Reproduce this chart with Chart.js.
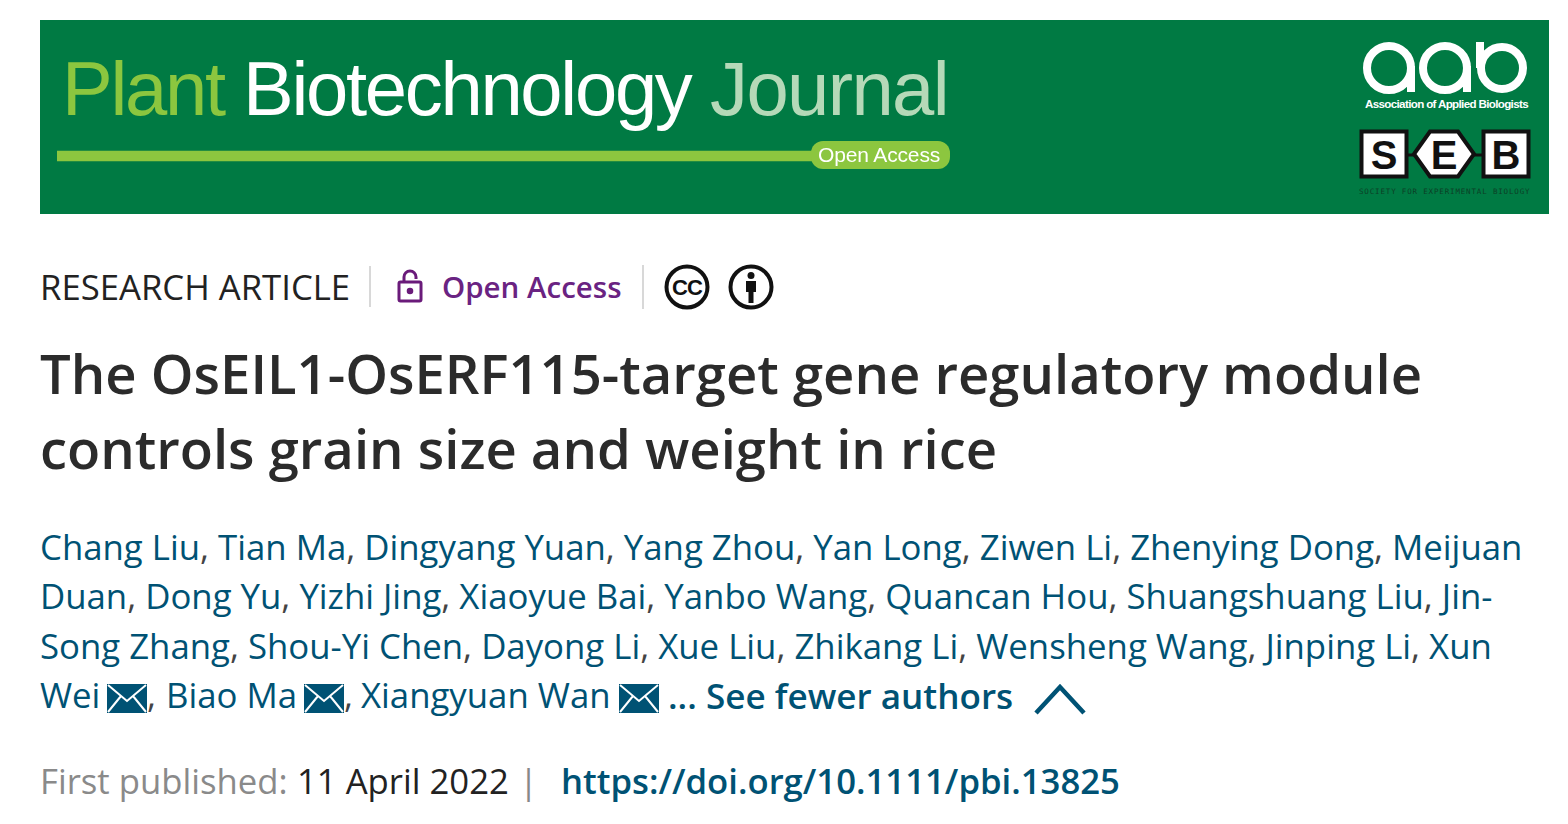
<!DOCTYPE html>
<html>
<head>
<meta charset="utf-8">
<script src="https://cdn.jsdelivr.net/npm/chart.js@4"></script>
<style>
html, body { margin: 0; padding: 0; background: #fff; }
body { width: 1568px; height: 824px; position: relative; overflow: hidden; font-family: "Open Sans", sans-serif; }
.t { position: absolute; white-space: nowrap; line-height: 1; }
.abs { position: absolute; }
#banner { position: absolute; left: 40px; top: 20px; width: 1509px; height: 194px; background: #007a43; }
.logo { font-family: "Liberation Sans", sans-serif; font-size: 76px; letter-spacing: -2.3px; top: 51px; }
.author { font-size: 34.77px; color: #005274; }
.author i { font-style: normal; color: #444; }
.sep { position: absolute; width: 2px; background: #d8d8d8; }
</style>
</head>
<body>
<div id="banner"></div>
<div class="t logo" style="left:62px;color:#8cc63f">Plant</div>
<div class="t logo" style="left:243px;color:#fff">Biotechnology</div>
<div class="t logo" style="left:710px;color:#b5d9b8;letter-spacing:-1.6px">Journal</div>

<div class="abs" style="left:57px;top:146px;width:756px;height:20px"><canvas id="ruleChart"></canvas></div>
<div class="abs" style="left:811px;top:141px;width:139px;height:28px;background:#8cc63f;border-radius:12px"></div>
<div class="t" style="left:818px;top:144px;font:21px/22px 'Liberation Sans',sans-serif;color:#fff;letter-spacing:-.15px">Open Access</div>

<!-- aab logo -->
<svg class="abs" style="left:1360px;top:36px" width="170" height="72" viewBox="0 0 170 72">
  <g fill="none" stroke="#fff" stroke-width="8">
    <circle cx="29" cy="32" r="22"/><path d="M51 30V56"/>
    <circle cx="85" cy="32" r="22"/><path d="M107 30V56"/>
    <circle cx="142" cy="32" r="21"/><path d="M120 6V32"/>
  </g>
</svg>
<div class="t" style="left:1365px;top:97px;font:bold 11.6px/14px 'Liberation Sans',sans-serif;color:#fff;letter-spacing:-.65px">Association of Applied Biologists</div>
<!-- SEB logo -->
<svg class="abs" style="left:1358px;top:128px" width="176" height="54" viewBox="0 0 176 54">
  <path d="M44 27H66M110 27H132" stroke="#111" stroke-width="3"/>
  <rect x="3.500" y="3.500" width="45" height="45" fill="#fff" stroke="#111" stroke-width="4"/>
  <path d="M72 3.500H100L116 26L100 48.500H72L56 26Z" fill="#fff" stroke="#111" stroke-width="4"/>
  <rect x="125.500" y="3.500" width="45" height="45" fill="#fff" stroke="#111" stroke-width="4"/>
  <g font-family="Liberation Sans" font-weight="bold" font-size="40" text-anchor="middle" fill="#111">
    <text x="26" y="41">S</text><text x="86" y="41">E</text><text x="148" y="41">B</text>
  </g>
</svg>
<div class="t" style="left:1359px;top:187px;font:7.500px/10px 'DejaVu Sans Mono',monospace;color:#0c3f26;letter-spacing:.84px">SOCIETY FOR EXPERIMENTAL BIOLOGY</div>

<div class="t" style="left:40px;top:270px;font-size:34.7px;color:#222">RESEARCH ARTICLE</div>
<div class="sep" style="left:369px;top:266px;height:41px"></div>
<svg class="abs" style="left:396px;top:269px" width="28" height="34" viewBox="0 0 28 34" fill="none" stroke="#6a1b7a" stroke-width="3">
  <rect x="3" y="13" width="22" height="19" rx="1.500"/><path d="M8 13V8a6 6 0 0 1 12 0v2"/><circle cx="14" cy="22" r="1.800" fill="#6a1b7a"/>
</svg>
<div class="t" style="left:442px;top:272px;font-size:29.500px;font-weight:600;color:#6a2382">Open Access</div>
<div class="sep" style="left:642px;top:265px;height:44px"></div>
<svg class="abs" style="left:663px;top:264px" width="48" height="46" viewBox="0 0 48 46">
  <circle cx="24" cy="23" r="20.500" fill="#fff" stroke="#111" stroke-width="4"/>
  <text x="24" y="31" text-anchor="middle" font-family="Liberation Sans" font-weight="bold" font-size="22" fill="#111" letter-spacing="-1">CC</text>
</svg>
<svg class="abs" style="left:727px;top:264px" width="48" height="46" viewBox="0 0 48 46">
  <circle cx="24" cy="23" r="20.500" fill="#fff" stroke="#111" stroke-width="4"/>
  <circle cx="24" cy="11.500" r="3.500" fill="#111"/><path d="M19 17h10v11h-2.500v11h-5V28H19z" fill="#111"/>
</svg>

<div id="title"></div>
<div id="authors"></div>

<div class="t" style="left:668px;top:678px;font-size:35.1px;font-weight:600;color:#005274">... See fewer authors</div>
<svg class="abs" style="left:1032px;top:682px" width="56" height="34" viewBox="0 0 56 34" fill="none" stroke="#005274" stroke-width="4.500"><path d="M4 31L28 5L52 31"/></svg>

<div class="t" style="left:40px;top:764px;font-size:34.7px;color:#8a8a8a">First published:</div>
<div class="t" style="left:297px;top:764px;font-size:34.7px;color:#222">11 April 2022</div>
<div class="t" style="left:519px;top:764px;font-size:34.7px;color:#888">|</div>
<div class="t" style="left:561px;top:764px;font-size:34.7px;font-weight:600;color:#005274">https://doi.org/10.1111/pbi.13825</div>

<script>
// Text
const titleLines = [
    "The OsEIL1-OsERF115-target gene regulatory module",
    "controls grain size and weight in rice"
];
const authorLines = [
    ["Chang Liu", "Tian Ma", "Dingyang Yuan", "Yang Zhou", "Yan Long", "Ziwen Li", "Zhenying Dong", "Meijuan"],
    ["Duan", "Dong Yu", "Yizhi Jing", "Xiaoyue Bai", "Yanbo Wang", "Quancan Hou", "Shuangshuang Liu", "Jin-"],
    ["Song Zhang", "Shou-Yi Chen", "Dayong Li", "Xue Liu", "Zhikang Li", "Wensheng Wang", "Jinping Li", "Xun"]
];
const authorTops = [530, 579, 629];
const lastAuthors = ["Wei", "Biao Ma", "Xiangyuan Wan"];
const lastAuthorX = [40, 166, 361];
const envelopeX = [107, 304, 619];

// The green rule in the banner is the only mark, a full bar on a 0-100 axis
const ruleLabels = ["Open Access"];
const ruleValues = [100];

// Title lines
titleLines.forEach((line, i) => {
    const el = document.createElement("div");
    el.className = "t";
    el.textContent = line;
    el.style.cssText = `left:40px;top:${346 + i * 75}px;font-size:54.4px;font-weight:600;color:#2b2b2b`;
    document.getElementById("title").appendChild(el);
});

// Author lines, commas stay darker than the names
const authorsBox = document.getElementById("authors");
authorLines.forEach((names, i) => {
    const el = document.createElement("div");
    el.className = "t author";
    el.style.cssText = `left:40px;top:${authorTops[i]}px`;
    el.innerHTML = names.join("<i>,</i> ");
    authorsBox.appendChild(el);
});
lastAuthors.forEach((name, i) => {
    const el = document.createElement("div");
    el.className = "t author";
    el.style.cssText = `left:${lastAuthorX[i]}px;top:678px`;
    el.textContent = name;
    authorsBox.appendChild(el);

    const env = document.createElementNS("http://www.w3.org/2000/svg", "svg");
    env.setAttribute("class", "abs");
    env.setAttribute("width", "40");
    env.setAttribute("height", "29");
    env.setAttribute("viewBox", "0 0 40 29");
    env.style.cssText = `left:${envelopeX[i]}px;top:684px`;
    env.innerHTML = '<rect width="40" height="29" fill="#005274"/><path d="M1 1L20 17L39 1M1 28L14 12M39 28L26 12" fill="none" stroke="#fff" stroke-width="2"/>';
    authorsBox.appendChild(env);

    if (i < 2) {
        const comma = document.createElement("div");
        comma.className = "t author";
        comma.style.cssText = `left:${envelopeX[i] + 40}px;top:678px`;
        comma.innerHTML = "<i>,</i>";
        authorsBox.appendChild(comma);
    }
});

new Chart(document.getElementById("ruleChart"), {
    type: "bar",
    data: {
        labels: ruleLabels,
        datasets: [{ data: ruleValues, backgroundColor: "#8cc63f", barThickness: 10 }]
    },
    options: {
        indexAxis: "y",
        responsive: true,
        maintainAspectRatio: false,
        animation: false,
        layout: { padding: 0 },
        plugins: { legend: { display: false }, tooltip: { enabled: false } },
        scales: {
            x: { display: false, min: 0, max: 100 },
            y: { display: false }
        }
    }
});
</script>
</body>
</html>
